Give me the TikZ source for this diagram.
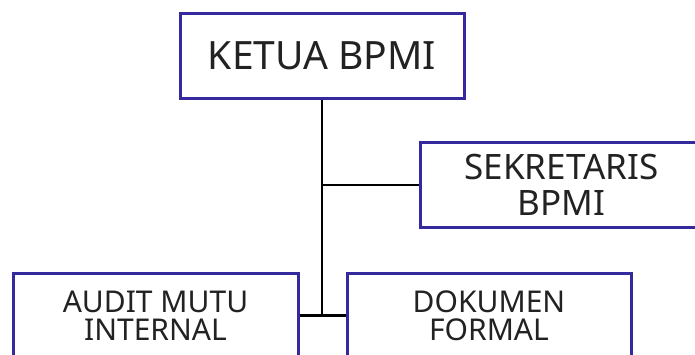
\documentclass[tikz,border=0pt]{standalone}
\usepackage{fontspec}
\setmainfont{Noto Sans}
\usetikzlibrary{calc, positioning}
\definecolor{boxline}{RGB}{52,42,158}
\definecolor{boxtext}{RGB}{34,34,34}

\begin{document}
\begin{tikzpicture}[x=1pt, y=-1pt,
        unit/.style = {draw=boxline, line width=3pt, fill=white, text=boxtext,
                       minimum width=284pt, minimum height=85pt, inner sep=0pt,
                       align=center},
        link/.style = {draw=black, line width=2.4pt}]
   \useasboundingbox (0,0) rectangle (695,354);
   \clip (0,0) rectangle (695,354);

   \node (ketua) [unit, font=\fontsize{39}{41}\selectfont] at (322,55.5) {KETUA BPMI};
   \node (sekretaris) [unit, minimum width=282pt, anchor=west,
                       font=\fontsize{35}{36}\selectfont] at (419,185) {SEKRETARIS\\BPMI};
   \node (audit) [unit, minimum width=285pt,
                  font=\fontsize{30}{28}\selectfont] at (155.5,315.5) {AUDIT MUTU\\INTERNAL};
   \node (dokumen) [unit,
                    font=\fontsize{30}{28}\selectfont] at (489,315.5) {DOKUMEN\\FORMAL};

   \draw[link] (ketua.south) -- (ketua.south |- audit.east);
   \draw[link] (ketua.south |- sekretaris.west) -- (sekretaris.west);
   \draw[link] (audit.east) -- (dokumen.west);
\end{tikzpicture}
\end{document}
